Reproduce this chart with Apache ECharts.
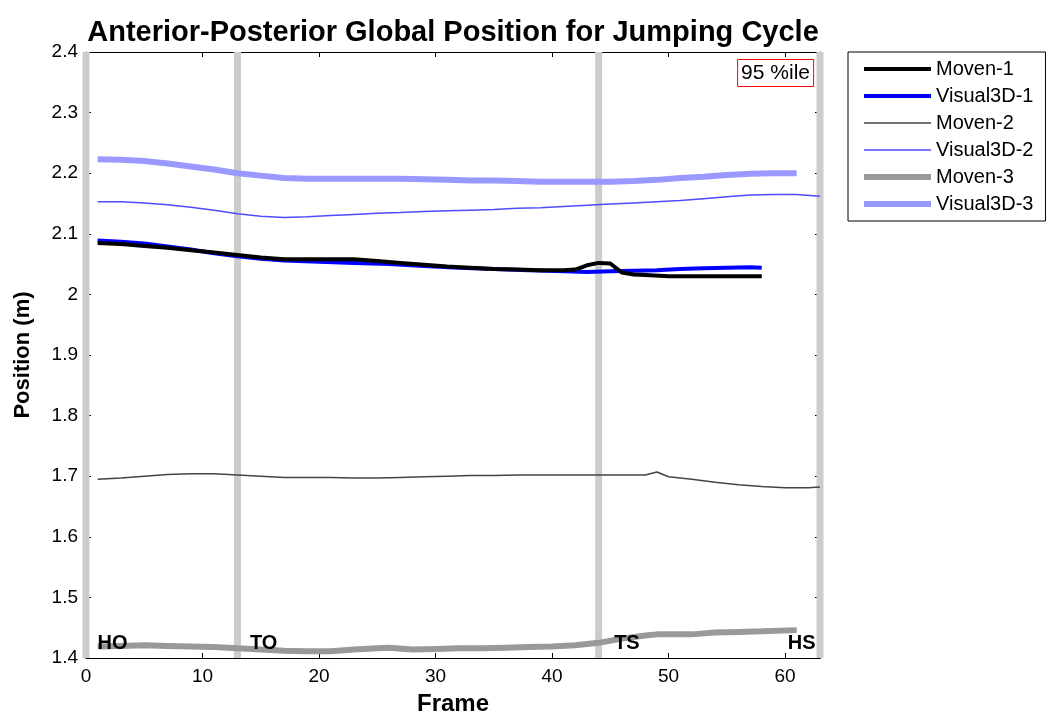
<!DOCTYPE html>
<html>
<head>
<meta charset="utf-8">
<script src="https://cdn.jsdelivr.net/npm/echarts@6/dist/echarts.min.js"></script>
<style>
html,body{margin:0;padding:0;background:#fff;}
#chart{width:1051px;height:721px;}
</style>
</head>
<body>
<div id="chart"></div>
<script>
// ---- data ----
const titleText = 'Anterior-Posterior Global Position for Jumping Cycle';
const xTitle = 'Frame';
const yTitle = 'Position (m)';
const annotation = '95 %ile';

const movenOneFrames = [1,3,5,7,9,11,13,15,17,19,21,23,25,27,29,31,33,35,37,39,41,42,43,44,45,46,47,48,50,52,54,56,58];
const movenOneValues = [2.085,2.083,2.080,2.077,2.073,2.069,2.065,2.061,2.058,2.058,2.058,2.058,2.055,2.052,2.049,2.046,2.044,2.042,2.041,2.040,2.040,2.041,2.048,2.052,2.051,2.036,2.033,2.032,2.030,2.030,2.030,2.030,2.030];

const visualOneFrames = [1,3,5,7,9,11,13,15,17,20,23,26,29,32,35,38,41,43,45,47,49,51,53,55,57,58];
const visualOneValues = [2.089,2.087,2.084,2.079,2.074,2.068,2.063,2.059,2.056,2.054,2.052,2.050,2.047,2.044,2.042,2.040,2.038,2.037,2.038,2.039,2.040,2.042,2.043,2.044,2.045,2.044];

const movenTwoFrames = [1,3,5,7,9,11,13,15,17,19,21,23,25,27,29,31,33,35,37,39,41,43,45,47,48,49,50,52,54,56,58,60,62,63];
const movenTwoValues = [1.695,1.697,1.700,1.703,1.704,1.704,1.702,1.700,1.698,1.698,1.698,1.697,1.697,1.698,1.699,1.700,1.701,1.701,1.702,1.702,1.702,1.702,1.702,1.702,1.702,1.707,1.699,1.695,1.690,1.686,1.683,1.681,1.681,1.682];

const visualTwoFrames = [1,3,5,7,9,11,13,15,17,19,21,23,25,27,29,31,33,35,37,39,41,43,45,47,49,51,53,55,57,59,61,63];
const visualTwoValues = [2.153,2.153,2.151,2.148,2.144,2.139,2.133,2.129,2.127,2.128,2.130,2.132,2.134,2.135,2.137,2.138,2.139,2.140,2.142,2.143,2.145,2.147,2.149,2.151,2.153,2.155,2.158,2.161,2.164,2.165,2.165,2.162];

const movenThreeFrames = [1,3,5,7,9,11,13,15,17,19,21,23,25,26,28,30,32,34,36,38,40,42,44,46,48,49,52,54,56,58,61];
const movenThreeValues = [1.419,1.420,1.421,1.420,1.419,1.418,1.416,1.414,1.412,1.411,1.411,1.414,1.416,1.417,1.414,1.415,1.416,1.416,1.417,1.418,1.419,1.421,1.425,1.432,1.437,1.439,1.439,1.442,1.443,1.444,1.446];

const visualThreeFrames = [1,3,5,7,9,11,13,15,17,19,21,23,25,27,29,31,33,35,37,39,41,43,45,47,49,51,53,55,57,59,61];
const visualThreeValues = [2.223,2.222,2.220,2.216,2.211,2.206,2.200,2.196,2.192,2.191,2.191,2.191,2.191,2.191,2.190,2.189,2.188,2.188,2.187,2.186,2.186,2.186,2.186,2.187,2.189,2.192,2.194,2.197,2.199,2.200,2.200];

const eventNames = ['HO','TO','TS','HS'];
const eventFrames = [0,13,44,63];

const seriesNames = ['Moven-1','Visual3D-1','Moven-2','Visual3D-2','Moven-3','Visual3D-3'];
const xMin = 0, xMax = 63, xInterval = 10;
const yMin = 1.4, yMax = 2.4, yInterval = 0.1;

// ---- build ----
const FONT = '"Liberation Sans", Arial, sans-serif';
function pairs(xs, ys){ return xs.map((x,i)=>[x, ys[i]]); }

const lineDefs = [
  {name: seriesNames[0], data: pairs(movenOneFrames, movenOneValues), color:'#000000', width:4},
  {name: seriesNames[1], data: pairs(visualOneFrames, visualOneValues), color:'#0000ff', width:4},
  {name: seriesNames[2], data: pairs(movenTwoFrames, movenTwoValues), color:'#444444', width:1.5},
  {name: seriesNames[3], data: pairs(visualTwoFrames, visualTwoValues), color:'#4d4dff', width:1.5},
  {name: seriesNames[4], data: pairs(movenThreeFrames, movenThreeValues), color:'#999999', width:6},
  {name: seriesNames[5], data: pairs(visualThreeFrames, visualThreeValues), color:'#9999ff', width:6}
];

const series = [];
eventFrames.forEach((f, i) => {
  series.push({
    name: 'event-' + eventNames[i], type:'line', data:[[f, yMin],[f, yMax]],
    symbol:'none', silent:true, clip:true, z:1,
    lineStyle:{color:'#cccccc', width:7}, emphasis:{disabled:true}
  });
});
// draw order: light ones first, then black/blue on top
const order = [5,4,3,2,1,0];
order.forEach(k => {
  const d = lineDefs[k];
  series.push({
    name: d.name, type:'line', data: d.data, symbol:'none', showSymbol:false,
    clip:true, z:3, lineStyle:{color:d.color, width:d.width}, itemStyle:{color:d.color},
    emphasis:{disabled:true}
  });
});
const labelOffsets = [[11,-15],[12,-15],[15,-15],[-4,-15]];
series.push({
  name:'event-labels', type:'scatter', symbolSize:1, z:5, silent:true,
  itemStyle:{opacity:0},
  data: eventFrames.map((f,i)=>({
    value:[f, yMin], name: eventNames[i],
    label:{show:true, position: i===3 ? 'left' : 'right', distance:0, offset: labelOffsets[i],
      formatter: eventNames[i], color:'#000', fontWeight:'bold', fontSize:20, fontFamily:FONT, opacity:1}
  })),
  emphasis:{disabled:true}
});

const tickStyle = {show:true, inside:true, length:5, lineStyle:{color:'#000', width:1}};
const axisLineStyle = {show:true, onZero:false, lineStyle:{color:'#000', width:1.2}};

const option = {
  animation:false,
  backgroundColor:'#ffffff',
  grid:{left:86, right:231, top:52, bottom:63, containLabel:false},
  graphic:[
    {type:'text', x:453, y:33, z:10,
     style:{text:titleText, fill:'#000', font:'bold 29px ' + FONT, textAlign:'center', textVerticalAlign:'middle'}}
  ],
  title:{
    text: annotation, right: 237, top: 59,
    padding:[4,4,3,4], borderColor:'#ff0000', borderWidth:1, backgroundColor:'#fff',
    textStyle:{fontSize:21, fontWeight:'normal', color:'#000', fontFamily:FONT}
  },
  legend:{
    data: lineDefs.map(d => ({name:d.name, lineStyle:{width:d.width, color:d.color}})),
    orient:'vertical', left:848, top:52,
    padding:[7,12,7,13], itemWidth:67, itemHeight:12, itemGap:7,
    borderColor:'#000', borderWidth:1, backgroundColor:'#fff',
    itemStyle:{opacity:0},
    textStyle:{fontSize:20, color:'#000', fontFamily:FONT},
    selectedMode:false
  },
  xAxis:[
    {type:'value', min:xMin, max:xMax, interval:xInterval, position:'bottom',
     name:xTitle, nameLocation:'middle', nameGap:34,
     nameTextStyle:{fontSize:24, fontWeight:'bold', color:'#000', fontFamily:FONT},
     axisLine:axisLineStyle, axisTick:tickStyle,
     axisLabel:{color:'#000', fontSize:19, fontFamily:FONT, margin:9, showMaxLabel:false,
       formatter: v => (v % xInterval === 0 ? String(v) : '')},
     splitLine:{show:false}},
    {type:'value', min:xMin, max:xMax, interval:xInterval, position:'top',
     axisLine:axisLineStyle, axisTick:tickStyle, axisLabel:{show:false}, splitLine:{show:false}}
  ],
  yAxis:[
    {type:'value', min:yMin, max:yMax, interval:yInterval, position:'left',
     name:yTitle, nameLocation:'middle', nameGap:52, nameRotate:90,
     nameTextStyle:{fontSize:22, fontWeight:'bold', color:'#000', fontFamily:FONT},
     axisLine:axisLineStyle, axisTick:tickStyle,
     axisLabel:{color:'#000', fontSize:19, fontFamily:FONT, margin:8,
       formatter: v => String(Math.round(v*10)/10)},
     splitLine:{show:false}},
    {type:'value', min:yMin, max:yMax, interval:yInterval, position:'right',
     axisLine:axisLineStyle, axisTick:tickStyle, axisLabel:{show:false}, splitLine:{show:false}}
  ],
  series: series
};

const chart = echarts.init(document.getElementById('chart'), null, {renderer:'canvas'});
chart.setOption(option);
</script>
</body>
</html>
